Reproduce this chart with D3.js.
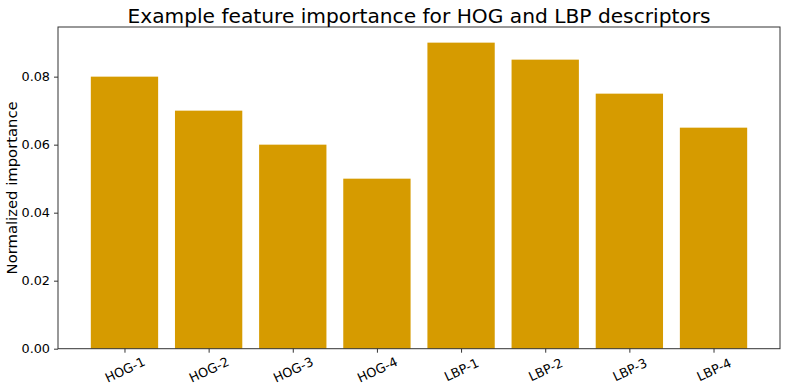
<!DOCTYPE html>
<html><head><meta charset="utf-8">
<script src="https://cdn.jsdelivr.net/npm/d3@7"></script>
<style>body{margin:0;background:#fff}svg{display:block;font-family:"DejaVu Sans",sans-serif}</style>
</head><body><svg id="c" width="790" height="386"></svg>
<script>
const categories = ["HOG-1","HOG-2","HOG-3","HOG-4","LBP-1","LBP-2","LBP-3","LBP-4"];
const values = [0.08,0.07,0.06,0.05,0.09,0.085,0.075,0.065];
const yTicks = [0,0.02,0.04,0.06,0.08];
const title = "Example feature importance for HOG and LBP descriptors";
const yLabel = "Normalized importance";

const svg = d3.select("#c");
const L = 58, R = 780, T = 27, B = 348.7;
const x = d3.scaleLinear().domain([-0.79, categories.length - 1 + 0.79]).range([L, R]);
const y = d3.scaleLinear().domain([0, 0.0946]).range([B, T]);
const bw = (x(0.8) - x(0));

svg.append("g").selectAll("rect").data(values).join("rect")
  .attr("x", (d,i) => x(i) - bw/2).attr("width", bw)
  .attr("y", d => y(d)).attr("height", d => B - y(d))
  .attr("fill", "#d69b00");

svg.append("rect").attr("x", L).attr("y", T).attr("width", R-L).attr("height", B-T)
  .attr("fill","none").attr("stroke","#333").attr("stroke-width",1);

const ya = d3.axisLeft(y).tickValues(yTicks).tickFormat(d3.format(".2f")).tickSize(4).tickPadding(4);
const gy = svg.append("g").attr("transform", `translate(${L},0)`).call(ya);
gy.select(".domain").remove();
gy.selectAll("line").attr("stroke","#333");
gy.selectAll("text").attr("font-size", 12.8).attr("fill","#000").attr("font-family","DejaVu Sans");

const xa = d3.axisBottom(x).tickValues(d3.range(categories.length)).tickFormat(i => categories[i]).tickSize(4);
const gx = svg.append("g").attr("transform", `translate(0,${B})`).call(xa);
gx.select(".domain").remove();
gx.selectAll("line").attr("stroke","#333");
gx.selectAll("text").attr("font-size", 12.8).attr("fill","#000").attr("font-family","DejaVu Sans")
  .attr("text-anchor","middle").attr("dy", null).attr("y", 0)
  .attr("transform", "translate(0,21) rotate(-25)").attr("dominant-baseline","central");

svg.append("text").attr("x", (L+R)/2).attr("y", 22.5).attr("text-anchor","middle")
  .attr("font-size", 20.2).attr("fill","#000").text(title);

svg.append("text").attr("transform", `translate(17,${(T+B)/2}) rotate(-90)`)
  .attr("text-anchor","middle").attr("font-size", 14.8).attr("fill","#000").text(yLabel);
</script></body></html>
